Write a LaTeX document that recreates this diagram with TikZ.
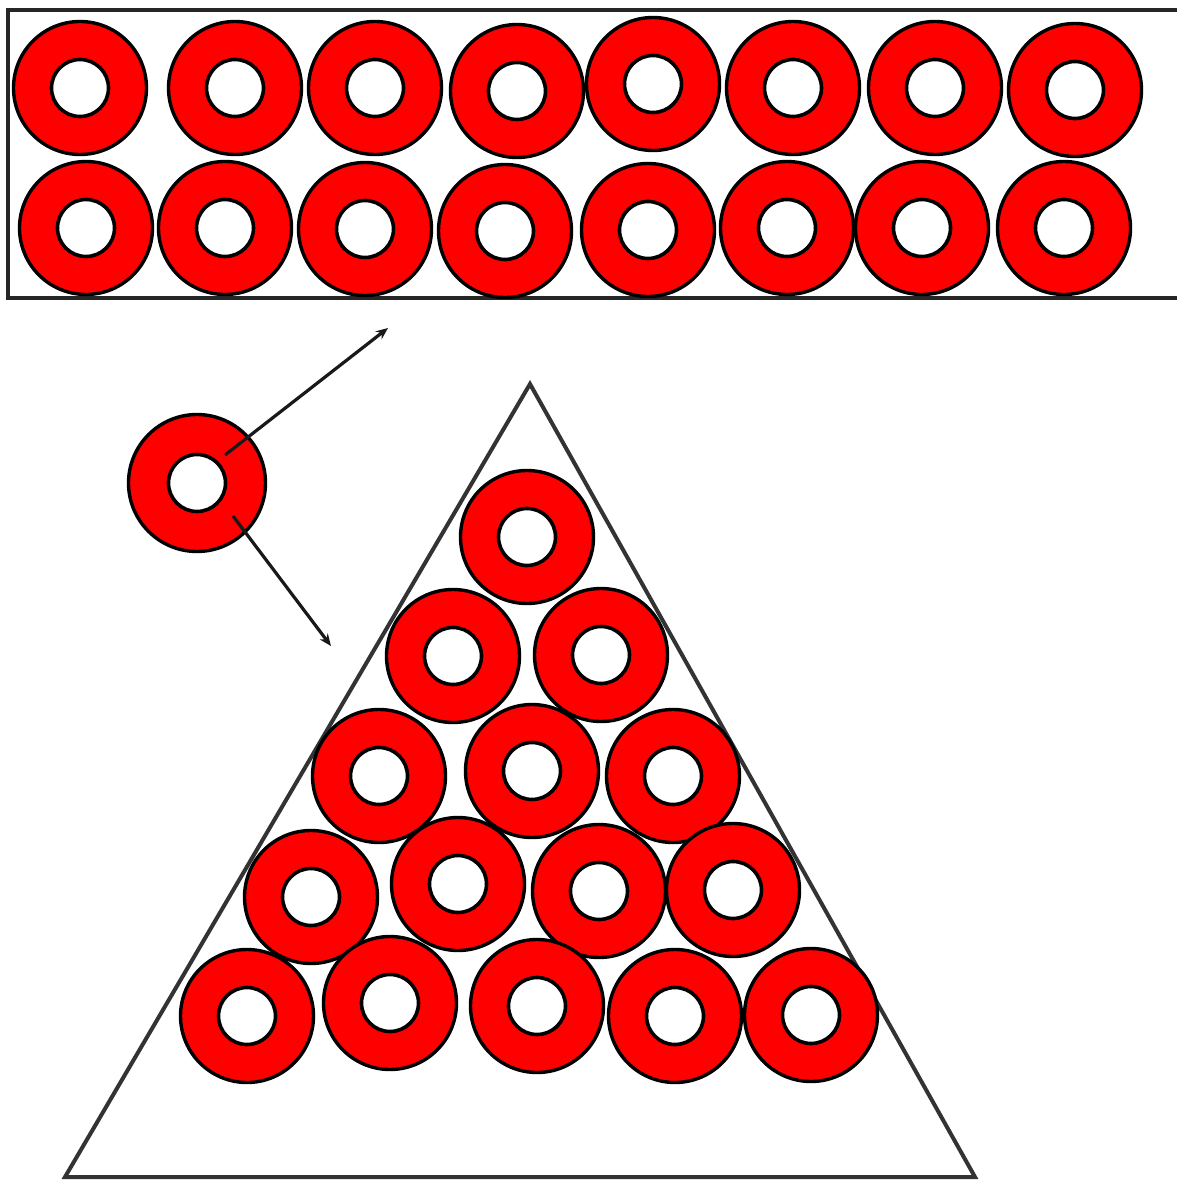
\documentclass[tikz,border=0pt]{standalone}
\usetikzlibrary{arrows.meta}
\begin{document}
\begin{tikzpicture}[x=1pt,y=-1pt,
  donut/.style={circle, draw=black, fill=red, line width=3.4pt, minimum size=133pt, inner sep=0pt,
    path picture={\draw[black, fill=white, line width=3.6pt] (path picture bounding box.center) circle (28.5pt);}},
  frame/.style={draw=black!85, line width=3.6pt},
  tri/.style={draw=black!80, line width=4pt, line join=miter},
  arr/.style={draw=black!90, line width=3.2pt, -{Stealth[length=12pt,width=10pt]}}]
\useasboundingbox[fill=white] (0,0) rectangle (1177,1180);
% top box
\draw[frame] (1190,10) -- (8,10) -- (8,298) -- (1190,298);
% top rows
\foreach \x/\y [count=\i] in {80/88,235/88,375/88,517/91,653/84,793/88,935/88,1075/90}
  \node[donut] (a\i) at (\x,\y) {};
\foreach \x/\y [count=\i] in {86/228,225/228,365/229,505/231,648/230,787/228,922/228,1064/228}
  \node[donut] (b\i) at (\x,\y) {};
% triangle
\coordinate (apex) at (530,384);
\coordinate (bl) at (65,1177);
\coordinate (br) at (975,1177);
\draw[tri] (apex) -- (bl) -- (br) -- cycle;
% pyramid
\node[donut] (p11) at (527,537) {};
\node[donut] (p21) at (453,656) {};
\node[donut] (p22) at (601,655) {};
\node[donut] (p31) at (379,776) {};
\node[donut] (p32) at (532,771) {};
\node[donut] (p33) at (673,776) {};
\node[donut] (p41) at (311,897) {};
\node[donut] (p42) at (458,884) {};
\node[donut] (p43) at (599,891) {};
\node[donut] (p44) at (733,890) {};
\node[donut] (p51) at (247,1016) {};
\node[donut] (p52) at (390,1003) {};
\node[donut] (p53) at (537,1006) {};
\node[donut] (p54) at (675,1016) {};
\node[donut] (p55) at (811,1015) {};
% single donut and arrows
\node[donut, minimum size=137pt] (s) at (197,483) {};
\coordinate (t1) at (388,328);
\coordinate (t2) at (331,646);
\draw[arr] (s.center) ++(28,-28) -- (t1);
\draw[arr] (s.center) ++(36,33) -- (t2);
\end{tikzpicture}
\end{document}
